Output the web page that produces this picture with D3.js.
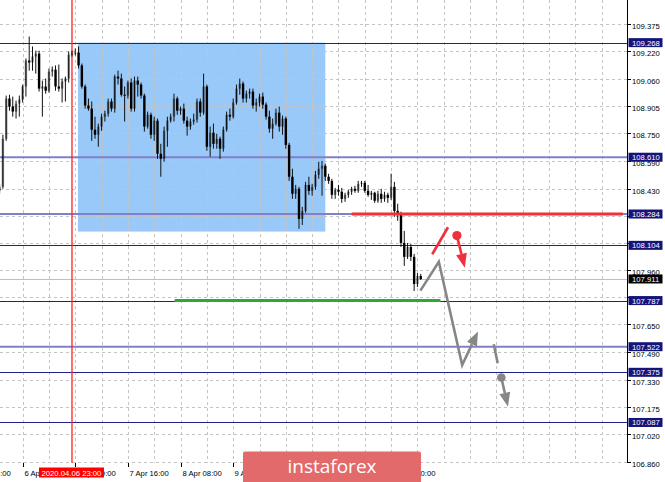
<!DOCTYPE html>
<meta charset="utf-8">
<script src="https://d3js.org/d3.v7.min.js"></script>
<style>
  body { margin: 0; background: #fff; }
  svg { display: block; font-family: "Liberation Sans", Arial, sans-serif; }
</style>
<div id="chart"></div>
<script>

// H1 bars, bar 22 = 2020.04.06 23:00
var open = [108.417,108.440,108.716,108.947,108.901,108.872,108.918,108.941,109.016,109.165,
  109.154,109.188,109.205,109.004,109.016,108.992,109.102,109.113,109.016,109.004,
  109.045,109.062,109.199,109.205,109.211,109.137,109.016,108.907,108.889,108.768,
  108.739,108.786,108.843,108.860,108.930,108.889,109.073,109.062,108.969,108.964,
  109.039,108.889,109.050,109.027,108.964,108.786,108.854,108.739,108.820,108.630,
  108.601,108.762,108.820,108.843,108.947,108.877,108.889,108.820,108.786,108.815,
  108.826,108.930,108.866,109.016,108.670,108.751,108.687,108.716,108.659,108.768,
  108.854,108.843,108.924,109.004,109.033,108.947,108.975,108.987,108.907,108.924,
  108.958,108.912,108.843,108.774,108.803,108.866,108.786,108.832,108.681,108.498,
  108.400,108.429,108.256,108.302,108.451,108.417,108.440,108.509,108.544,108.561,
  108.498,108.474,108.394,108.423,108.412,108.371,108.394,108.412,108.429,108.417,
  108.457,108.463,108.417,108.394,108.406,108.360,108.400,108.371,108.394,108.377,
  108.440,108.302,108.285,108.118,108.038,108.095,108.038,107.882,107.928];
var high = [108.457,108.739,108.964,108.969,108.958,108.935,108.964,109.027,109.177,109.303,
  109.246,109.222,109.222,109.050,109.062,109.119,109.131,109.137,109.142,109.062,
  109.073,109.217,109.222,109.234,109.246,109.148,109.027,108.947,108.930,108.843,
  108.803,108.860,108.877,108.947,108.947,109.084,109.107,109.090,109.016,109.050,
  109.062,109.073,109.073,109.039,108.975,108.872,108.866,108.843,108.832,108.687,
  108.786,108.843,108.860,108.975,108.958,108.901,108.918,108.843,108.832,108.860,
  108.947,108.947,109.090,109.027,108.786,108.803,108.745,108.728,108.786,108.872,
  108.889,108.947,109.027,109.062,109.045,108.992,109.004,109.004,108.947,108.975,
  108.981,108.924,108.877,108.832,108.889,108.901,108.849,108.843,108.693,108.544,
  108.451,108.440,108.325,108.469,108.498,108.457,108.532,108.584,108.589,108.573,
  108.515,108.486,108.434,108.451,108.434,108.406,108.423,108.440,108.446,108.474,
  108.474,108.474,108.451,108.417,108.412,108.417,108.429,108.412,108.406,108.515,
  108.469,108.343,108.297,108.187,108.118,108.112,108.055,107.945,107.940];
var low = [108.400,108.429,108.704,108.877,108.843,108.832,108.843,108.924,108.958,109.107,
  109.107,109.090,108.987,108.843,108.975,108.981,109.073,108.992,108.987,108.924,
  108.930,109.039,109.188,109.194,109.119,109.004,108.889,108.877,108.704,108.716,
  108.670,108.762,108.815,108.843,108.872,108.866,109.027,108.958,108.815,108.947,
  108.872,108.872,108.958,108.947,108.757,108.774,108.716,108.704,108.601,108.498,
  108.584,108.670,108.809,108.815,108.854,108.854,108.803,108.734,108.768,108.797,
  108.809,108.843,108.854,108.647,108.613,108.659,108.659,108.601,108.642,108.757,
  108.820,108.832,108.912,108.969,108.924,108.924,108.947,108.889,108.872,108.901,
  108.889,108.826,108.751,108.716,108.792,108.757,108.739,108.659,108.474,108.371,
  108.371,108.199,108.221,108.291,108.394,108.389,108.423,108.486,108.389,108.474,
  108.457,108.371,108.371,108.389,108.348,108.354,108.377,108.394,108.406,108.406,
  108.440,108.406,108.383,108.365,108.348,108.348,108.348,108.354,108.348,108.365,
  108.268,108.245,108.095,107.986,108.026,108.014,107.842,107.865,107.905];
var close = [108.440,108.716,108.947,108.901,108.872,108.918,108.941,109.016,109.165,109.154,
  109.188,109.205,109.004,109.016,108.992,109.102,109.113,109.016,109.004,109.045,
  109.062,109.199,109.205,109.211,109.137,109.016,108.907,108.889,108.768,108.739,
  108.786,108.843,108.860,108.930,108.889,109.073,109.062,108.969,108.964,109.039,
  108.889,109.050,109.027,108.964,108.786,108.854,108.739,108.820,108.630,108.601,
  108.762,108.820,108.843,108.947,108.877,108.889,108.820,108.786,108.815,108.826,
  108.930,108.866,109.016,108.670,108.751,108.687,108.716,108.659,108.768,108.854,
  108.843,108.924,109.004,109.033,108.947,108.975,108.987,108.907,108.924,108.958,
  108.912,108.843,108.774,108.803,108.866,108.786,108.832,108.681,108.498,108.400,
  108.429,108.256,108.302,108.451,108.417,108.440,108.509,108.544,108.561,108.498,
  108.474,108.394,108.423,108.412,108.371,108.394,108.412,108.429,108.417,108.457,
  108.463,108.417,108.394,108.406,108.360,108.400,108.371,108.394,108.377,108.440,
  108.302,108.285,108.118,108.038,108.095,108.038,107.882,107.928,107.911];

// price scale
var priceTicks = [109.375,109.220,109.060,108.905,108.750,108.590,108.430,108.275,108.120,
  107.960,107.805,107.650,107.490,107.330,107.175,107.020,106.860];
var levels = [109.268,108.610,108.284,108.104,107.787,107.522,107.375,107.087];
var heavyLevels = [108.610,108.284,107.522];
var bid = 107.911;

// time scale (bar numbers); labels under the banner are not shown
var timeLabels = ["3 Apr 16:00","6 Apr 08:00","7 Apr 00:00","7 Apr 16:00","8 Apr 08:00",
  "9 Apr 00:00","11 Apr 00:00"];
var timeLabelBars = [-9,7,23,39,55,71,119];
var markerBar = 22, markerLabel = "2020.04.06 23:00";

// drawn objects: [bar, price]
var boxCorners = [[23.8,109.268],[99,108.183]];
var redSegment = [[107,108.284],[189.4,108.284]];
var greenSegment = [[53.2,107.787],[134,107.787]];
var grayPath = [[127.9,107.844],[133.5,108.010],[140.6,107.417],[145.4,107.609]];
var graySlash = [[150.2,107.536],[151.4,107.427]];
var grayDot = [152.5,107.345], grayDotArrow = [[152.5,107.345],[154.5,107.178]];
var redSlash = [[131.5,108.053],[136.3,108.208]];
var redDot = [139.0,108.160], redDotArrow = [[139.0,108.160],[141.4,107.976]];

var W = 665, H = 482, plotR = 627, plotB = 463;

var svg = d3.select("#chart").append("svg")
  .attr("width", W).attr("height", H);

var x = d3.scaleLinear().domain([0, 190]).range([-0.4, -0.4 + 190 * 3.29]);
var y = d3.scaleLinear().domain([106.860, 109.375]).range([462, 24]);
function crisp(v) { return Math.round(v) + 0.5; }

svg.append("defs").append("clipPath").attr("id", "plotclip")
  .append("rect").attr("x", 0).attr("y", 0).attr("width", plotR).attr("height", plotB);

var plot = svg.append("g").attr("clip-path", "url(#plotclip)");

// blue box (background object)
plot.append("rect")
  .attr("x", x(boxCorners[0][0]))
  .attr("y", y(boxCorners[0][1]))
  .attr("width", x(boxCorners[1][0]) - x(boxCorners[0][0]))
  .attr("height", y(boxCorners[1][1]) - y(boxCorners[0][1]))
  .attr("fill", "#99c9f8");

// grid
plot.selectAll(".hgrid").data(priceTicks).enter().append("line")
  .attr("x1", 0).attr("x2", plotR)
  .attr("y1", function(d) { return crisp(y(d)); })
  .attr("y2", function(d) { return crisp(y(d)); })
  .attr("stroke", "#c4c4c4").attr("stroke-dasharray", "3,3");
plot.selectAll(".vgrid").data(d3.range(-1, 190, 8)).enter().append("line")
  .attr("x1", function(d) { return crisp(x(d)); })
  .attr("x2", function(d) { return crisp(x(d)); })
  .attr("y1", 0).attr("y2", plotB)
  .attr("stroke", "#c4c4c4").attr("stroke-dasharray", "3,3");

// horizontal levels
function heavy(d) { return heavyLevels.indexOf(d) >= 0; }
plot.selectAll(".level").data(levels).enter().append("line")
  .attr("x1", 0).attr("x2", plotR)
  .attr("y1", function(d) { return heavy(d) ? y(d) : crisp(y(d)); })
  .attr("y2", function(d) { return heavy(d) ? y(d) : crisp(y(d)); })
  .attr("stroke", function(d) { return heavy(d) ? "#8080c8" : "#20208a"; })
  .attr("stroke-width", function(d) { return heavy(d) ? 2 : 1; });

// bid line
plot.append("line")
  .attr("x1", 0).attr("x2", plotR)
  .attr("y1", crisp(y(bid))).attr("y2", crisp(y(bid)))
  .attr("stroke", "#c0c0c0");

// marker vertical line
plot.append("line")
  .attr("x1", x(markerBar)).attr("x2", x(markerBar))
  .attr("y1", 0).attr("y2", plotB)
  .attr("stroke", "#ff2020").attr("stroke-width", 1.3);

// candles
var bars = d3.range(open.length);
var candle = plot.selectAll(".candle").data(bars).enter().append("g");
candle.append("line")
  .attr("x1", function(i) { return x(i); })
  .attr("x2", function(i) { return x(i); })
  .attr("y1", function(i) { return y(high[i]); })
  .attr("y2", function(i) { return y(low[i]); })
  .attr("stroke", "#111").attr("stroke-width", 1);
candle.append("rect")
  .attr("x", function(i) { return x(i) - 1.2; })
  .attr("width", 2.4)
  .attr("y", function(i) { return y(Math.max(open[i], close[i])); })
  .attr("height", function(i) { return Math.max(1, Math.abs(y(open[i]) - y(close[i]))); })
  .attr("fill", "#000")
  .attr("fill-opacity", function(i) { return close[i] > open[i] ? 0.45 : 1; });

// trend segments
var line = d3.line().x(function(d) { return x(d[0]); }).y(function(d) { return y(d[1]); });
plot.append("path").attr("d", line(redSegment))
  .attr("stroke", "#f0303a").attr("stroke-width", 3).attr("fill", "none");
plot.append("path").attr("d", line(greenSegment))
  .attr("stroke", "#2fa83a").attr("stroke-width", 3).attr("fill", "none");

// forecast arrows
function arrow(pts, color) {
  var n = pts.length, a = pts[n - 2], b = pts[n - 1];
  var x0 = x(a[0]), y0 = y(a[1]), x1 = x(b[0]), y1 = y(b[1]);
  var ang = Math.atan2(y1 - y0, x1 - x0), len = 14, half = 5.5;
  var bx = x1 - len * Math.cos(ang), by = y1 - len * Math.sin(ang);
  var shaft = pts.slice(0, n - 1).map(function(p) { return [x(p[0]), y(p[1])]; });
  shaft.push([bx, by]);
  plot.append("path").attr("d", d3.line()(shaft))
    .attr("stroke", color).attr("stroke-width", 2.6).attr("fill", "none")
    .attr("stroke-linejoin", "miter");
  plot.append("path")
    .attr("d", d3.line()([[x1, y1],
      [bx + half * Math.sin(ang), by - half * Math.cos(ang)],
      [bx - half * Math.sin(ang), by + half * Math.cos(ang)]]) + "Z")
    .attr("fill", color);
}
arrow(grayPath, "#868686");
plot.append("path").attr("d", line(graySlash))
  .attr("stroke", "#868686").attr("stroke-width", 2.6);
arrow(grayDotArrow, "#868686");
plot.append("circle").attr("cx", x(grayDot[0])).attr("cy", y(grayDot[1])).attr("r", 4.3)
  .attr("fill", "#868686");
plot.append("path").attr("d", line(redSlash))
  .attr("stroke", "#f0303a").attr("stroke-width", 2.6);
arrow(redDotArrow, "#f0303a");
plot.append("circle").attr("cx", x(redDot[0])).attr("cy", y(redDot[1])).attr("r", 4.6)
  .attr("fill", "#f0303a");

// right price axis
var tags = levels.concat([bid]);
function covered(d) {
  return tags.some(function(t) { return Math.abs(y(t) - y(d)) < 3.3; });
}
svg.append("line").attr("x1", plotR + 0.5).attr("x2", plotR + 0.5)
  .attr("y1", 0).attr("y2", plotB).attr("stroke", "#000");
var ptick = svg.selectAll(".ptick").data(priceTicks).enter().append("g")
  .attr("transform", function(d) { return "translate(0," + crisp(y(d)) + ")"; });
ptick.append("line").attr("x1", plotR).attr("x2", plotR + 4).attr("stroke", "#000");
ptick.filter(function(d) { return !covered(d); })
  .append("text").attr("x", plotR + 5).attr("y", 4.3)
  .attr("font-size", "7.7px").attr("fill", "#000")
  .text(function(d) { return d.toFixed(3); });

// level tags
var tag = svg.selectAll(".tag").data(tags).enter().append("g")
  .attr("transform", function(d) { return "translate(0," + y(d) + ")"; });
tag.append("rect").attr("x", plotR + 1.5).attr("y", -4.5).attr("width", 34).attr("height", 9)
  .attr("fill", function(d) { return d === bid ? "#000" : "#14147a"; });
tag.append("text").attr("x", plotR + 5).attr("y", 3)
  .attr("font-size", "7.7px").attr("fill", "#fff")
  .text(function(d) { return d.toFixed(3); });

// time axis
var ttick = svg.selectAll(".ttick").data(timeLabelBars).enter().append("g")
  .attr("transform", function(d) { return "translate(" + crisp(x(d)) + ",0)"; });
ttick.append("line").attr("y1", plotB).attr("y2", plotB + 4).attr("stroke", "#000");
ttick.append("text").attr("x", 1).attr("y", 476)
  .attr("font-size", "7.7px").attr("fill", "#000")
  .text(function(d, i) { return timeLabels[i]; });

// marker time tag
var mx = x(markerBar);
svg.append("rect").attr("x", mx - 33).attr("y", 467.5).attr("width", 65).attr("height", 10)
  .attr("fill", "#ff0000");
svg.append("text").attr("x", mx - 0.5).attr("y", 475.6).attr("text-anchor", "middle")
  .attr("font-size", "7.7px").attr("fill", "#fff").text(markerLabel);

// watermark banner
svg.append("rect").attr("x", 243).attr("y", 451.5).attr("width", 178).attr("height", 34)
  .attr("rx", 2).attr("fill", "#e26a6a");
svg.append("text").attr("x", 332).attr("y", 473).attr("text-anchor", "middle")
  .attr("font-family", "'Open Sans', sans-serif").attr("font-size", "19px")
  .attr("fill", "#fff").text("instaforex");

</script>
